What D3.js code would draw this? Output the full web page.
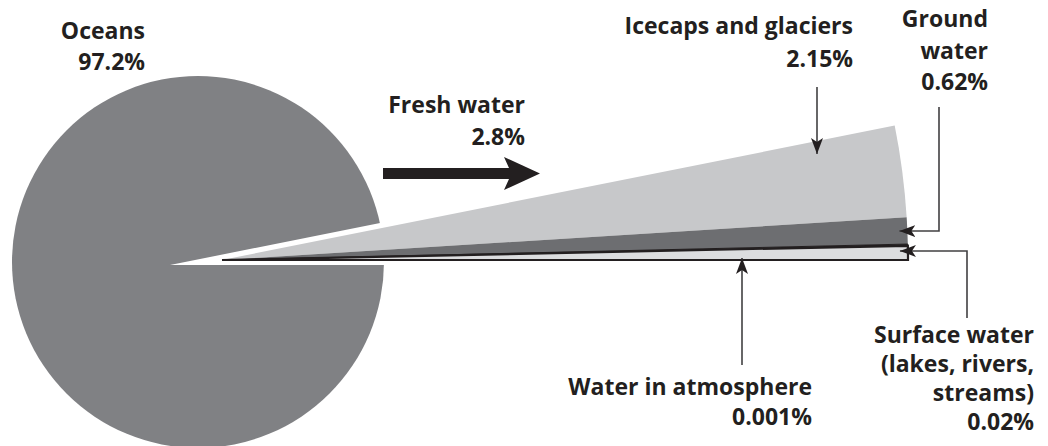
<!DOCTYPE html>
<html>
<head>
<meta charset="utf-8">
<script src="https://cdn.jsdelivr.net/npm/d3@7"></script>
<style>
  body { margin: 0; background: #fff; }
  text { font-family: "Open Sans", Lato, sans-serif; font-weight: 700; fill: #231f20; font-size: 23px; }
</style>
</head>
<body>
<svg id="chart" width="1048" height="446"></svg>
<script>
// share of the world's water, percent
const totalCategories = ["Oceans", "Fresh water"];
const totalValues = [97.2, 2.8];

// fresh water broken down (top to bottom of the exploded wedge)
const freshCategories = ["Icecaps and glaciers", "Ground water", "Water in atmosphere", "Surface water"];
const freshValues = [2.15, 0.62, 0.001, 0.02];
const freshColors = ["#c7c8ca", "#6d6e71", "#231f20", "#dcdddf"];

// text of each callout, one entry per line
const oceansLabel = ["Oceans", "97.2%"];
const freshLabel = ["Fresh water", "2.8%"];
const icecapsLabel = ["Icecaps and glaciers", "2.15%"];
const groundLabel = ["Ground", "water", "0.62%"];
const atmosphereLabel = ["Water in atmosphere", "0.001%"];
const surfaceLabel = ["Surface water", "(lakes, rivers,", "streams)", "0.02%"];

const svg = d3.select("#chart");
const ink = "#231f20";

// tiny slices get a minimum visible width so they can be seen at all
function displayValue(v) {
    if (v < 0.01) return 0.04;
    if (v < 0.1) return 0.33;
    return v;
}

const freshData = freshCategories.map((c, i) => ({ name: c, value: freshValues[i], display: displayValue(freshValues[i]), color: freshColors[i] }));
const shown = d3.sum(freshData, d => d.display);
const span = 2 * Math.PI * shown / 100;   // angle of the fresh water wedge
const right = Math.PI / 2;                // d3 angle pointing to the right

// --- oceans pie with the fresh water slice cut out
const oceanC = { x: 198, y: 262 }, oceanR = 186;
svg.append("path")
    .attr("transform", `translate(${oceanC.x},${oceanC.y})`)
    .attr("d", d3.arc()({ innerRadius: 0, outerRadius: oceanR, startAngle: 0, endAngle: 2 * Math.PI }))
    .attr("fill", "#808184");

const notch = { x: 170, y: 265 };
svg.append("path")
    .attr("transform", `translate(${notch.x},${notch.y})`)
    .attr("d", d3.arc()({ innerRadius: 0, outerRadius: 260, startAngle: right - span, endAngle: right }))
    .attr("fill", "#fff");

// --- exploded fresh water wedge
const apex = { x: 222, y: 260 }, bigR = 686;
const pie = d3.pie().sort(null).value(d => d.display).startAngle(right - span).endAngle(right);
const slices = pie(freshData);
const arc = d3.arc().innerRadius(0).outerRadius(bigR);

const wedge = svg.append("g").attr("transform", `translate(${apex.x},${apex.y})`);
wedge.selectAll("path")
    .data(slices)
    .enter().append("path")
    .attr("d", arc)
    .attr("fill", d => d.data.color)
    .attr("stroke", d => d.data.name === "Surface water" ? ink : (d.data.name === "Water in atmosphere" ? ink : "none"))
    .attr("stroke-width", d => d.data.name === "Surface water" ? 2.2 : 1)
    .attr("stroke-linejoin", "miter");

// point of the wedge at angle a (d3 convention) and radius r, in page coords
function polar(a, r) {
    return [apex.x + r * Math.sin(a), apex.y - r * Math.cos(a)];
}
function midAngle(s) { return (s.startAngle + s.endAngle) / 2; }
// y of the line leaving the apex at angle a, at page x
function edgeY(a, x) { return apex.y - (x - apex.x) / Math.tan(a); }

// --- big "fresh water" arrow
const bigArrow = { x0: 383, x1: 540, y: 173.5, shaft: 5.5, head: 16.5, back: 36 };
const bigArrowPts = [
    [bigArrow.x0, bigArrow.y - bigArrow.shaft],
    [bigArrow.x1 - bigArrow.back + 5, bigArrow.y - bigArrow.shaft],
    [bigArrow.x1 - bigArrow.back, bigArrow.y - bigArrow.head],
    [bigArrow.x1, bigArrow.y],
    [bigArrow.x1 - bigArrow.back, bigArrow.y + bigArrow.head],
    [bigArrow.x1 - bigArrow.back + 5, bigArrow.y + bigArrow.shaft],
    [bigArrow.x0, bigArrow.y + bigArrow.shaft]
];
svg.append("path")
    .attr("d", d3.line()(bigArrowPts) + "Z")
    .attr("fill", ink);

// --- pointer lines
svg.append("defs").append("marker")
    .attr("id", "tip")
    .attr("viewBox", "-16 -7 17 14")
    .attr("refX", 0).attr("refY", 0)
    .attr("markerWidth", 17).attr("markerHeight", 14)
    .attr("markerUnits", "userSpaceOnUse")
    .attr("orient", "auto")
    .append("path")
    .attr("d", "M0,0 L-16,-6 L-12,0 L-16,6 Z")
    .attr("fill", ink);

const sIce = slices[0], sGround = slices[1], sSurface = slices[3];
const iceX = 817;
const groundTip = polar(midAngle(sGround), bigR - 8);
const surfaceTip = polar(midAngle(sSurface) - 0.003, bigR - 8);
const atmX = 742;

const pointers = [
    [[iceX, 87], [iceX, edgeY(sIce.startAngle, iceX) + 13]],
    [[939, 107], [939, groundTip[1]], groundTip],
    [[967, 318], [967, surfaceTip[1]], surfaceTip],
    [[atmX, 365], [atmX, apex.y - 2]]
];
svg.selectAll(".pointer")
    .data(pointers)
    .enter().append("path")
    .attr("class", "pointer")
    .attr("d", d => d3.line()(d))
    .attr("fill", "none")
    .attr("stroke", "#414042")
    .attr("stroke-width", 1.6)
    .attr("marker-end", "url(#tip)");

// --- labels
const labels = [
    { lines: oceansLabel, x: 145, y: [39, 70] },
    { lines: freshLabel, x: 525, y: [113, 145] },
    { lines: icecapsLabel, x: 853, y: [34, 67] },
    { lines: groundLabel, x: 988, y: [27, 59, 90] },
    { lines: atmosphereLabel, x: 812, y: [395, 425] },
    { lines: surfaceLabel, x: 1034, y: [343, 372, 401, 430] }
];
labels.forEach(l => {
    svg.append("g").selectAll("text")
        .data(l.lines)
        .enter().append("text")
        .attr("x", l.x)
        .attr("y", (d, i) => l.y[i])
        .attr("text-anchor", "end")
        .text(d => d);
});
</script>
</body>
</html>
